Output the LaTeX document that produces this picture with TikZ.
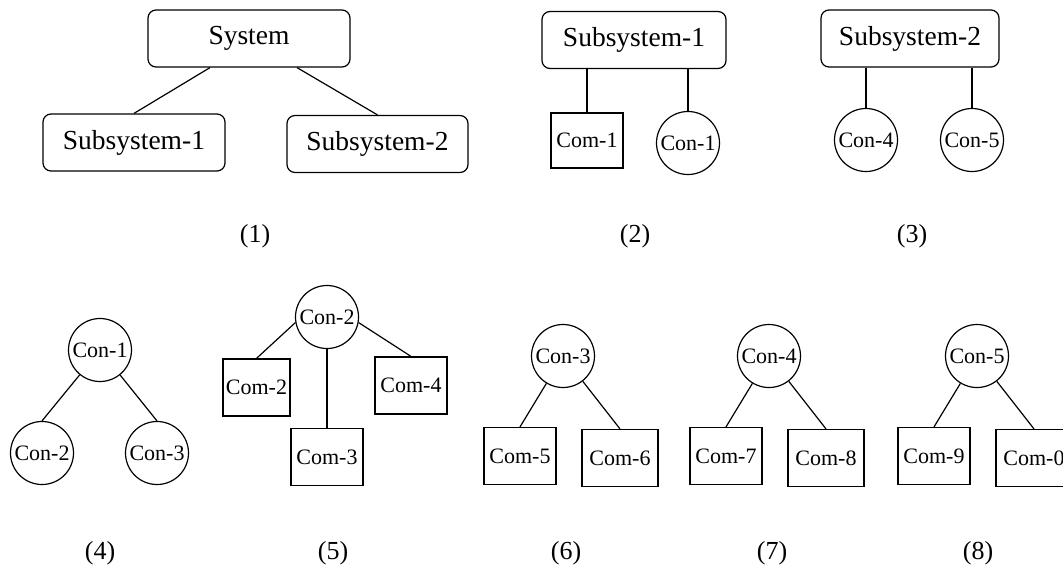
\documentclass[tikz,border=0pt]{standalone}
\usepackage{fontspec}
\setmainfont{Liberation Serif}
\begin{document}
\begin{tikzpicture}[x=1pt,y=-1pt,line width=1.2pt,
		sysbox/.style={draw,rounded corners=8pt,minimum height=57pt,inner sep=2pt,font=\fontsize{27.5}{32}\selectfont},
		combox/.style={draw,minimum width=72pt,minimum height=57pt,inner sep=1pt,font=\fontsize{22}{26}\selectfont},
		conball/.style={draw,circle,minimum size=63pt,inner sep=0pt,font=\fontsize{22}{26}\selectfont},
		lbl/.style={font=\fontsize{26}{30}\selectfont}]
			\clip (0,0) rectangle (1063,571);
			% (1) system
			\node[sysbox,minimum width=202pt] (sys) at (249,38.5) {System};
			\node[sysbox,minimum width=182pt] (suba) at (134,142.5) {Subsystem-1};
			\node[sysbox,minimum width=181pt] (subb) at (377.5,144) {Subsystem-2};
			\draw ([xshift=-39pt]sys.south) -- (suba.north);
			\draw ([xshift=48pt]sys.south) -- (subb.north);
			% (2) subsystem-1
			\node[sysbox,minimum width=184pt] (subc) at (634,40) {Subsystem-1};
			\node[combox,minimum height=55pt] (com1) at (587,140.5) {Com-1};
			\node[conball] (con1a) at (688,143) {Con-1};
			\draw (subc.south -| com1.north) -- (com1.north);
			\draw (subc.south -| con1a.north) -- (con1a.north);
			% (3) subsystem-2
			\node[sysbox,minimum width=178pt] (subd) at (910,38.5) {Subsystem-2};
			\node[conball] (con4a) at (866,140) {Con-4};
			\node[conball] (con5a) at (972,140) {Con-5};
			\draw (subd.south -| con4a.north) -- (con4a.north);
			\draw (subd.south -| con5a.north) -- (con5a.north);
			% (4) con-1
			\node[conball] (con1b) at (100,350) {Con-1};
			\node[conball] (con2a) at (42,453) {Con-2};
			\node[conball] (con3a) at (157,453) {Con-3};
			\draw (con1b) -- (con2a.north);
			\draw (con1b) -- (con3a.north);
			% (5) con-2
			\node[conball] (con2b) at (327,317) {Con-2};
			\node[combox,minimum width=67pt] (com2) at (256.5,387.5) {Com-2};
			\node[combox] (com3) at (327,457) {Com-3};
			\node[combox] (com4) at (411,385.5) {Com-4};
			\draw (con2b.190) -- (com2.north);
			\draw (con2b.south) -- (com3.north);
			\draw (con2b.350) -- (com4.north);
			% (6)-(8) con-3, con-4, con-5
			\foreach \c/\x/\l/\r in {3/563/5/6, 4/769/7/8, 5/977/9/0} {
				\node[conball] (con\c b) at (\x,356) {Con-\c};
				\node[combox] (com\l) at (\x-43,456) {Com-\l};
				\node[combox,minimum width=76pt] (com\r) at (\x+57,458) {Com-\r};
				\draw (con\c b) -- (com\l.north);
				\draw (con\c b) -- (com\r.north);
			}
			% labels
			\foreach \n/\x/\y in {1/255/236, 2/635/236, 3/912/236, 4/100/553, 5/333/553, 6/566/553, 7/772/553, 8/978/553}
				\node[lbl] (lbl\n) at (\x,\y) {(\n)};
\end{tikzpicture}
\end{document}
